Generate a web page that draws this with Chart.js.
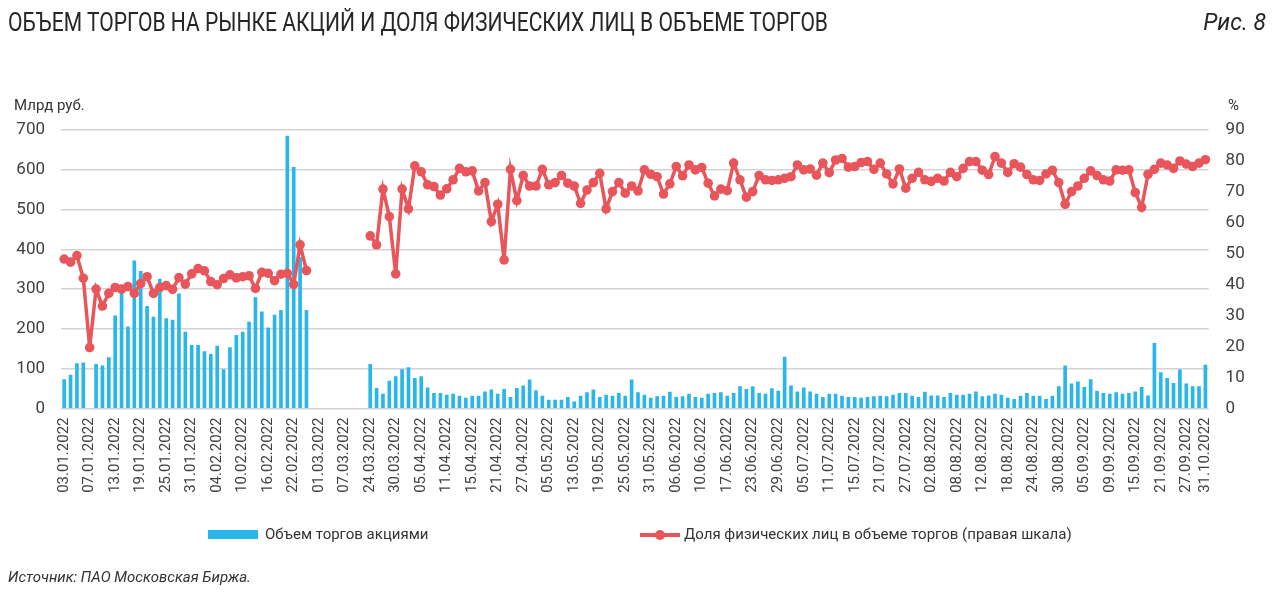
<!DOCTYPE html>
<html>
<head>
<meta charset="utf-8">
<script src="https://cdn.jsdelivr.net/npm/chart.js@4"></script>
<style>
  html, body { margin: 0; padding: 0; background: #fff; }
  body { width: 1280px; height: 593px; position: relative; overflow: hidden; font-family: Roboto, sans-serif; color: #333; }
  #chart { position: absolute; left: 0; top: 0; }
  .txt { position: absolute; white-space: nowrap; }
  #title { left: 8px; top: 8px; font-size: 25px; color: #262626; transform-origin: 0 0; }
  #fig { right: 14px; top: 9px; font-size: 23px; font-style: italic; color: #262626; }
  #unitL { left: 14px; top: 96px; font-size: 15px; }
  #unitR { left: 1228px; top: 96px; font-size: 15px; }
  #source { left: 8px; top: 568px; font-size: 15px; font-style: italic; }
  .leg { position: absolute; top: 525px; font-size: 15px; white-space: nowrap; }
  .box { position: absolute; }
</style>
</head>
<body>
<canvas id="chart" width="1280" height="593"></canvas>
<div id="title" class="txt">ОБЪЕМ ТОРГОВ НА РЫНКЕ АКЦИЙ И ДОЛЯ ФИЗИЧЕСКИХ ЛИЦ В ОБЪЕМЕ ТОРГОВ</div>
<div id="fig" class="txt">Рис. 8</div>
<div id="unitL" class="txt">Млрд руб.</div>
<div id="unitR" class="txt">%</div>
<div class="box" style="left:208px;top:530px;width:50px;height:9px;background:#29b6e8"></div>
<div class="leg" style="left:265px">Объем торгов акциями</div>
<div class="box" style="left:640px;top:533px;width:40px;height:4px;background:#e8565b"></div>
<div class="box" style="left:655px;top:530px;width:10px;height:10px;border-radius:5px;background:#e8565b"></div>
<div class="leg" style="left:684px">Доля физических лиц в объеме торгов (правая шкала)</div>
<div id="source" class="txt">Источник: ПАО Московская Биржа.</div>
<script>
// каждая 4-я торговая дата подписана на оси
const tickLabels = [
  '03.01.2022', '07.01.2022', '13.01.2022', '19.01.2022', '25.01.2022', '31.01.2022',
  '04.02.2022', '10.02.2022', '16.02.2022', '22.02.2022', '01.03.2022', '07.03.2022',
  '24.03.2022', '30.03.2022', '05.04.2022', '11.04.2022', '15.04.2022', '21.04.2022',
  '27.04.2022', '05.05.2022', '13.05.2022', '19.05.2022', '25.05.2022', '31.05.2022',
  '06.06.2022', '10.06.2022', '17.06.2022', '23.06.2022', '29.06.2022', '05.07.2022',
  '11.07.2022', '15.07.2022', '21.07.2022', '27.07.2022', '02.08.2022', '08.08.2022',
  '12.08.2022', '18.08.2022', '24.08.2022', '30.08.2022', '05.09.2022', '09.09.2022',
  '15.09.2022', '21.09.2022', '27.09.2022'
];
const lastLabel = '31.10.2022';

// объем торгов акциями, млрд руб.
const volume = [
  73, 84, 113, 115, null, 111, 107, 128, 233, 293, 205, 371, 345, 257, 230, 325,
  226, 222, 288, 192, 159, 159, 143, 136, 157, 98, 153, 184, 192, 217, 279,
  243, 203, 235, 247, 685, 606, 380, 247,
  null, null, null, null, null, null, null, null, null,
  111, 51, 36, 69, 80, 98, 103, 76, 80, 52, 38, 38, 34,
  36, 31, 26, 31, 31, 42, 47, 36, 48, 28, 51, 57, 72, 45, 31, 21,
  21, 21, 28, 17, 31, 40, 47, 28, 34, 31, 38, 31, 72, 40, 34,
  26, 30, 31, 41, 28, 30, 36, 28, 26, 36, 38, 40, 31, 38, 55,
  48, 55, 38, 36, 50, 44, 129, 57, 42, 52, 42, 36, 28, 36, 36,
  31, 28, 28, 26, 28, 30, 31, 30, 34, 38, 38, 31, 28, 41, 32,
  32, 28, 38, 34, 34, 36, 42, 30, 32, 36, 34, 26, 23, 31, 38,
  31, 31, 23, 31, 55, 107, 62, 67, 53, 73, 44, 38, 36, 40,
  36, 38, 42, 53, 32, 164, 90, 76, 63, 97, 62, 55, 55, 109
];

// доля физических лиц, %
const retailShare = [
  48.3, 47.3, 49.4, 42.1, 19.7, 38.6, 33.1, 37.2, 39.1, 38.6, 39.4, 37.2, 40.4, 42.6, 37.2, 39.1,
  39.7, 38.5, 42.3, 40.2, 43.5, 45.2, 44.5, 41.0, 40.0, 42.0, 43.2, 42.2, 42.6, 42.9, 38.8,
  44.0, 43.7, 41.3, 43.4, 43.7, 40.1, 52.9, 44.6,
  null, null, null, null, null, null, null, null, null,
  55.8, 52.9, 70.9, 62.0, 43.5, 70.9, 64.5, 78.4, 76.5, 72.3, 71.7, 69.0, 71.0,
  73.9, 77.6, 76.5, 76.8, 70.3, 73.0, 60.4, 66.0, 48.0, 77.3, 67.2, 75.3, 71.9, 71.9, 77.3, 72.3,
  73.0, 75.3, 72.8, 71.9, 66.3, 70.6, 73.0, 76.0, 64.5, 70.1, 73.0, 69.6, 71.9, 70.3, 77.1,
  75.7, 74.9, 69.3, 72.6, 78.2, 75.2, 78.7, 77.1, 77.9, 72.8, 68.7, 70.9, 70.4, 79.3, 73.9,
  68.3, 70.1, 75.3, 73.9, 73.7, 73.9, 74.4, 74.9, 78.7, 77.1, 77.4, 75.4, 79.3, 76.2, 80.3,
  80.8, 78.0, 78.2, 79.5, 79.8, 77.3, 79.3, 75.8, 72.6, 77.4, 71.2, 74.4, 76.3, 73.9, 73.4,
  74.4, 73.5, 76.3, 74.9, 77.6, 79.8, 79.8, 77.0, 75.6, 81.4, 79.3, 76.3, 79.1, 78.0, 75.6,
  73.9, 73.7, 75.8, 77.0, 73.0, 66.0, 70.1, 71.9, 74.4, 76.8, 75.3, 73.9, 73.5, 77.1,
  77.0, 77.1, 69.8, 65.0, 75.7, 77.3, 79.3, 78.7, 77.6, 80.0, 79.0, 78.2, 79.3, 80.4
];

const categories = volume.map((v, i) =>
  i === volume.length - 1 ? lastLabel : (i % 4 === 0 ? tickLabels[i / 4] : ''));

const blue = '#29b6e8';
const red = '#e8565b';

// заголовок в узком начертании
const title = document.getElementById('title');
title.style.transform = 'scaleX(' + (820 / title.getBoundingClientRect().width) + ')';

new Chart(document.getElementById('chart'), {
  type: 'bar',
  data: {
    labels: categories,
    datasets: [
      {
        type: 'line',
        label: 'Доля физических лиц в объеме торгов (правая шкала)',
        data: retailShare,
        yAxisID: 'y2',
        borderColor: red,
        backgroundColor: red,
        borderWidth: 3.5,
        pointRadius: 4.8,
        pointBorderWidth: 0,
        pointBackgroundColor: red,
        spanGaps: false,
        order: 0
      },
      {
        label: 'Объем торгов акциями',
        data: volume,
        yAxisID: 'y',
        backgroundColor: blue,
        barThickness: 3,
        order: 1
      }
    ]
  },
  options: {
    responsive: false,
    animation: false,
    devicePixelRatio: 1,
    layout: { padding: { top: 130, left: 0, right: 0, bottom: 0 } },
    plugins: {
      legend: { display: false },
      tooltip: { enabled: false }
    },
    scales: {
      x: {
        offset: true,
        grid: { display: false, drawTicks: false },
        border: { display: false },
        ticks: {
          autoSkip: false,
          minRotation: 90,
          maxRotation: 90,
          padding: 9,
          color: '#404040',
          font: { family: 'Roboto', size: 15 }
        },
        afterFit: (scale) => { scale.height = 184.5; }
      },
      y: {
        position: 'left',
        min: 0,
        max: 700,
        ticks: {
          stepSize: 100,
          padding: 16,
          color: '#404040',
          font: { family: 'Roboto', size: 17 }
        },
        grid: { color: '#d4d4d4', lineWidth: 1.5, drawTicks: false },
        border: { display: false },
        afterFit: (scale) => { scale.width = 61; }
      },
      y2: {
        position: 'right',
        min: 0,
        max: 90,
        ticks: {
          stepSize: 10,
          padding: 17,
          color: '#404040',
          font: { family: 'Roboto', size: 17 }
        },
        grid: { display: false, drawTicks: false },
        border: { display: false },
        afterFit: (scale) => { scale.width = 71.4; }
      }
    }
  }
});
</script>
</body>
</html>
